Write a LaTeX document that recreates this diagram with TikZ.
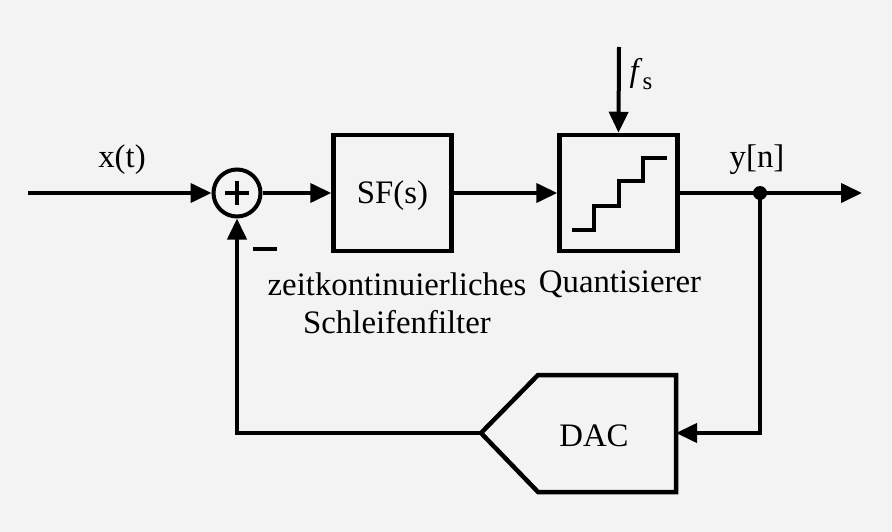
\documentclass[tikz,border=0pt]{standalone}
\usepackage{fontspec}
\setmainfont{Liberation Serif}
\usetikzlibrary{arrows.meta}
\definecolor{bggray}{HTML}{F3F3F3}
\begin{document}
\begin{tikzpicture}[x=1pt,y=-1pt, line width=4pt,
  >={Triangle[length=21pt,width=19pt]},
  box/.style={draw, line width=4.5pt, minimum width=118pt, minimum height=116pt, inner sep=0pt},
  lbl/.style={font=\fontsize{32.8}{40}\selectfont, inner sep=0pt},
  sumnode/.style={draw, circle, line width=4pt, minimum size=47pt, inner sep=0pt}]
\fill[bggray] (0,0) rectangle (892,532);
\useasboundingbox (0,0) rectangle (892,532);
% nodes
\node[sumnode] (sum) at (237,193) {};
\node[box] (sf) at (392.5,193) {};
\node[lbl] (sflbl) at (392.5,196) {SF(s)};
\node[box] (q) at (618.5,193) {};
\coordinate (in) at (28,193);
\coordinate (out) at (862,193);
\coordinate (dot) at (760,193);
\coordinate (fsin) at (619,47);
% DAC
\coordinate (dactip) at (481,433);
\coordinate (dacr) at (676,433);
\draw[line width=4.5pt, line join=miter] (dactip) -- (538,375) -- (676,375) -- (676,492) -- (538,492) -- cycle;
\node[lbl] (daclbl) at (594,436) {DAC};
% plus and minus
\draw[line width=4pt] (225,193) -- (249,193) (237,181) -- (237,205);
\draw[line width=4pt] (253,249) -- (277,249);
% staircase
\draw[line width=4pt] (572,230) -- (594,230) -- (594,206) -- (619,206) -- (619,181) -- (643,181) -- (643,158) -- (667,158);
% connectors
\draw[->] (in) -- (sum.west);
\draw[->] (sum.east) -- (sf.west);
\draw[->] (sf.east) -- (q.west);
\draw[->] (q.east) -- (out);
\draw[->] (fsin) -- (q.north);
\fill (dot) circle (7pt);
\draw[->] (dot) |- (dacr);
\draw[->] (dactip) -| (sum.south);
% labels
\node[lbl] (xt) at (122,160) {x(t)};
\node[lbl] (yn) at (757,160) {y[n]};
\node[lbl] (fs) at (641,74) {\textit{f}\raisebox{-0.22em}{\fontsize{25}{30}\selectfont s}};
\node[lbl] (sflab1) at (397,284) {zeitkontinuierliches};
\node[lbl] (sflab2) at (397,322) {Schleifenfilter};
\node[lbl] (qlab) at (620,284) {Quantisierer};
\end{tikzpicture}
\end{document}
